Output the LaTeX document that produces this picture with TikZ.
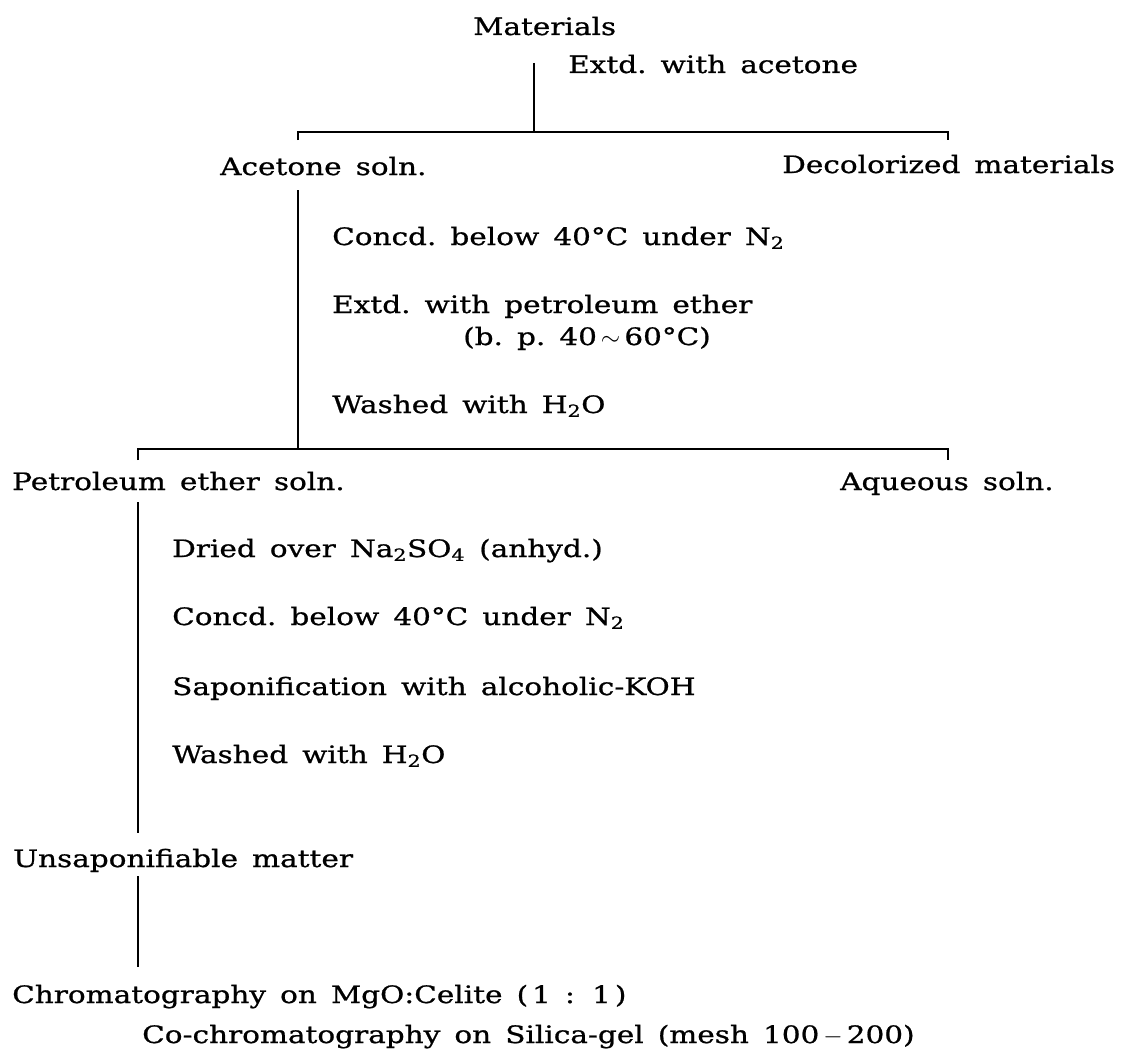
\documentclass[tikz,border=0pt]{standalone}
\usepackage{fontspec}
\setmainfont{DejaVu Serif}[FakeStretch=1.23,FakeBold=0.8,WordSpace=1.5]
\begin{document}
\begin{tikzpicture}[x=1pt,y=-1pt,
  txt/.style={anchor=base west, inner sep=0pt, font=\fontsize{24}{28}\selectfont},
  ln/.style={line width=1.7pt, line cap=butt}]
\useasboundingbox (0,0) rectangle (1121,1049);
% texts
\node[txt] (mat)    at (473,35)  {Materials};
\node[txt] (extd)   at (568,73)  {Extd.\ with acetone};
\node[txt] (acet)   at (220,175) {Acetone soln.};
\node[txt] (decol)  at (782,173) {Decolorized materials};
\node[txt] (concA)  at (332,245) {Concd.\ below 40°C under N\textsubscript{2}};
\node[txt] (extpet) at (332,313) {Extd.\ with petroleum ether};
\node[txt] (bp)     at (463,345) {(b.\ p.\ 40\,{\fontsize{32}{32}\selectfont$\sim$}\,60°C)};
\node[txt] (washA)  at (332,413) {Washed with H\textsubscript{2}O};
\node[txt] (pet)    at (12,490)  {Petroleum ether soln.};
\node[txt] (aq)     at (840,490) {Aqueous soln.};
\node[txt] (dried)  at (172,557) {Dried over Na\textsubscript{2}SO\textsubscript{4} (anhyd.)};
\node[txt] (concB)  at (172,625) {Concd.\ below 40°C under N\textsubscript{2}};
\node[txt] (sapon)  at (172,695) {Saponification with alcoholic-KOH};
\node[txt] (washB)  at (172,763) {Washed with H\textsubscript{2}O};
\node[txt] (unsap)  at (13,867)  {Unsaponifiable matter};
\node[txt] (chrom)  at (12,1003) {Chromatography on MgO:Celite (\,1 : 1\,)};
\node[txt] (cochrom) at (142,1043) {Co-chromatography on Silica-gel (mesh 100\,$-$\,200)};
% connector points
\coordinate (v1t) at (534,63);
\coordinate (j1)  at (534,132);
\coordinate (h1l) at (298,132);
\coordinate (h1r) at (948,132);
\coordinate (t1l) at (298,140);
\coordinate (t1r) at (948,140);
\coordinate (v2t) at (298,190);
\coordinate (j2)  at (298,449);
\coordinate (h2l) at (138,449);
\coordinate (h2r) at (948,449);
\coordinate (t2l) at (138,460);
\coordinate (t2r) at (948,460);
\coordinate (v3t) at (138,502);
\coordinate (v3b) at (138,833);
\coordinate (v4t) at (138,876);
\coordinate (v4b) at (138,967);
% connectors
\draw[ln] (v1t) -- (j1);
\draw[ln] (t1l) -- (h1l) -- (h1r) -- (t1r);
\draw[ln] (v2t) -- (j2);
\draw[ln] (t2l) -- (h2l) -- (h2r) -- (t2r);
\draw[ln] (v3t) -- (v3b);
\draw[ln] (v4t) -- (v4b);
\end{tikzpicture}
\end{document}
